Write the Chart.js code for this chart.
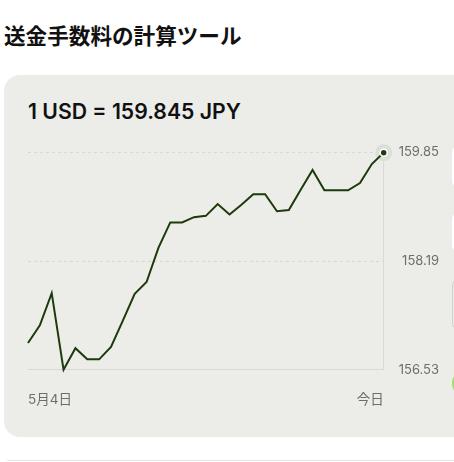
<!DOCTYPE html>
<html lang="ja">
<head>
<meta charset="utf-8">
<title>送金手数料の計算ツール</title>
<script src="https://cdn.jsdelivr.net/npm/chart.js@4/dist/chart.umd.min.js"></script>
<style>
  html, body { margin: 0; padding: 0; background: #fff; overflow: hidden; }
  body { width: 454px; height: 462px; position: relative; font-family: "Inter", "Noto Sans CJK JP", sans-serif; }
  h2 { position: absolute; left: 4px; top: 21px; margin: 0; font-size: 21.6px; font-weight: 700; color: #111; line-height: 30px; }
  .card { position: absolute; left: 4px; top: 75px; width: 480px; height: 362px; background: #ecede9; border-radius: 16px; }
  .rate { position: absolute; left: 28px; top: 97px; font-size: 21.2px; font-weight: 600; color: #111; line-height: 28px; }
  .wrap { position: absolute; left: 14px; top: 137px; width: 425px; height: 285px; }
  .side { position: absolute; left: 452px; width: 24px; border-radius: 8px; }
  .hr { position: absolute; left: 7px; top: 460px; width: 460px; height: 1px; background: #e6e6e6; }
</style>
</head>
<body>
<h2>送金手数料の計算ツール</h2>
<div class="card"></div>
<div class="rate">1 USD = 159.845 JPY</div>
<div class="side" style="top:145px;height:43px;background:#fff"></div>
<div class="side" style="top:212px;height:41px;background:#fff"></div>
<div class="side" style="top:278px;height:53px;border:1px solid #cfd1cc;box-sizing:border-box"></div>
<div class="side" style="top:370px;height:27px;width:27px;border-radius:50%;background:#9ddf6c"></div>
<div class="hr"></div>
<div class="wrap"><canvas id="rateChart"></canvas></div>
<script>
let days = ['5月4日', '5月5日', '5月6日', '5月7日', '5月8日', '5月9日', '5月10日', '5月11日',
  '5月12日', '5月13日', '5月14日', '5月15日', '5月16日', '5月17日', '5月18日', '5月19日',
  '5月20日', '5月21日', '5月22日', '5月23日', '5月24日', '5月25日', '5月26日', '5月27日',
  '5月28日', '5月29日', '5月30日', '5月31日', '6月1日', '6月2日', '今日'];
let rates = [156.94, 157.21, 157.70, 156.53, 156.86, 156.69, 156.69, 156.88,
  157.28, 157.69, 157.87, 158.39, 158.78, 158.78, 158.86, 158.88,
  159.06, 158.90, 159.05, 159.21, 159.21, 158.95, 158.97, 159.28,
  159.58, 159.27, 159.27, 159.27, 159.38, 159.67, 159.845];
let yTicks = [156.53, 158.19, 159.85];

let last = rates.length - 1;
let lineColor = '#1d3a0c';
let tickFont = 'Inter, "Noto Sans CJK JP", sans-serif';

let ctx = document.getElementById('rateChart').getContext('2d');

let chart = new Chart(ctx, {
  type: 'line',
  data: {
    labels: days,
    datasets: [{
      data: rates,
      borderColor: lineColor,
      borderWidth: 2,
      tension: 0,
      clip: false,
      pointRadius: c => c.dataIndex === last ? 3.5 : 0,
      pointBackgroundColor: lineColor,
      pointBorderColor: '#fff',
      pointBorderWidth: 1.5
    }, {
      // halo behind the latest point
      data: rates,
      showLine: false,
      clip: false,
      pointRadius: c => c.dataIndex === last ? 8.5 : 0,
      pointBackgroundColor: '#dcdfd8',
      pointBorderWidth: 0
    }]
  },
  options: {
    responsive: true,
    maintainAspectRatio: false,
    animation: false,
    layout: { padding: 0 },
    plugins: { legend: { display: false }, tooltip: { enabled: false } },
    scales: {
      x: {
        grid: { display: false },
        border: { display: true, color: '#d7d9d4', width: 1 },
        ticks: {
          autoSkip: false,
          maxRotation: 0,
          align: 'inner',
          padding: 14,
          color: '#6b6f6a',
          font: { family: tickFont, size: 13.5 },
          callback: (v, i) => (i === 0 || i === last) ? days[i] : ''
        }
      },
      y: {
        position: 'right',
        min: yTicks[0],
        max: yTicks[yTicks.length - 1],
        afterBuildTicks: s => { s.ticks = yTicks.map(v => ({ value: v })); },
        grid: { color: '#d6d8d3', drawTicks: false },
        border: { display: true, color: '#d9dbd6', width: 1, dash: [3, 3] },
        ticks: {
          padding: 7.5,
          crossAlign: 'far',
          color: '#6b6f6a',
          font: { family: tickFont, size: 13 },
          callback: v => v.toFixed(2)
        }
      }
    }
  }
});
</script>
</body>
</html>
